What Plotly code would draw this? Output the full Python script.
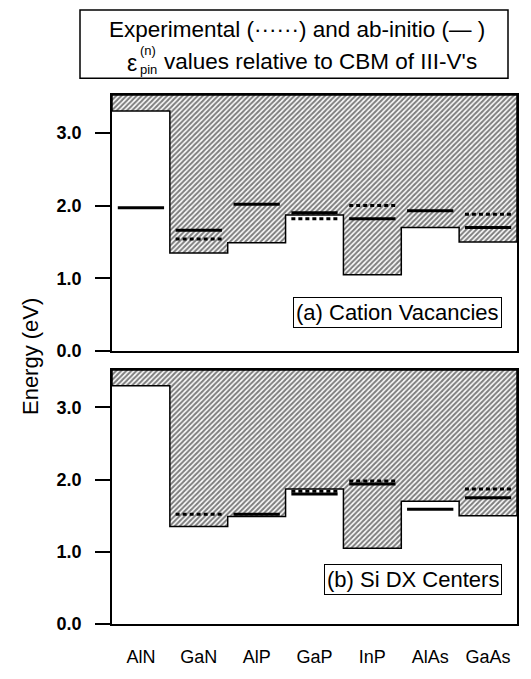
import plotly.graph_objects as go
from plotly.subplots import make_subplots

materials = ["AlN", "GaN", "AlP", "GaP", "InP", "AlAs", "GaAs"]
gap_edge = [3.30, 1.35, 1.49, 1.87, 1.05, 1.70, 1.50]

exp_a = [None, 1.54, None, 1.82, 2.00, None, 1.88]
abi_a = [1.97, 1.66, 2.02, 1.90, 1.82, 1.93, 1.70]
exp_b = [None, 1.52, None, 1.84, 1.98, None, 1.87]
abi_b = [None, None, 1.52, 1.80, 1.94, 1.59, 1.75]

y_ticks = [0, 1, 2, 3]
y_max = 3.52

W, H = 531, 679
ML, MR, MT, MB = 112, 14, 95, 49
PW, PH = W - ML - MR, H - MT - MB
FONT = "Liberation Sans"


def px(x):
    return (x - ML) / PW


def py(y):
    return (H - MB - y) / PH


fig = make_subplots(rows=2, cols=1, vertical_spacing=0.0)
n = len(materials)


def hatch_trace():
    xs, ys = [-0.5], [y_max]
    for i, g in enumerate(gap_edge):
        xs += [i - 0.5, i + 0.5]
        ys += [g, g]
    xs += [n - 0.5, -0.5]
    ys += [y_max, y_max]
    return go.Scatter(
        x=xs, y=ys, mode="lines", fill="toself",
        fillcolor="white",
        fillpattern=dict(shape="/", fgcolor="black", bgcolor="white",
                         size=3.6, solidity=0.55),
        line=dict(color="black", width=1.5),
        hoverinfo="skip", showlegend=False)


def level_trace(vals, dash):
    xs, ys = [], []
    for i, v in enumerate(vals):
        if v is None:
            continue
        xs += [i - 0.4, i + 0.4, None]
        ys += [v, v, None]
    return go.Scatter(x=xs, y=ys, mode="lines",
                      line=dict(color="black", width=3, dash=dash),
                      hoverinfo="skip", showlegend=False)


for row, (ex, ab) in enumerate([(exp_a, abi_a), (exp_b, abi_b)], start=1):
    fig.add_trace(hatch_trace(), row=row, col=1)
    fig.add_trace(level_trace(ab, "solid"), row=row, col=1)
    fig.add_trace(level_trace(ex, "4px,3px"), row=row, col=1)

axis_common = dict(showline=True, mirror=True, linecolor="black", linewidth=1.5,
                   showgrid=False, zeroline=False)

fig.update_xaxes(range=[-0.5, n - 0.5], tickvals=list(range(n)), ticktext=materials,
                 ticks="", **axis_common)
fig.update_xaxes(showticklabels=False, row=1, col=1)
fig.update_xaxes(showticklabels=True, ticklabelstandoff=16,
                 tickfont=dict(family=FONT, size=18, color="black"),
                 row=2, col=1)
fig.update_yaxes(range=[0, y_max], tickvals=y_ticks, tickformat=".1f",
                 ticks="outside", ticklen=15, tickwidth=1.5, tickcolor="black",
                 ticklabelstandoff=10,
                 tickfont=dict(family=FONT, size=18, color="black", weight="bold"),
                 **axis_common)

fig.update_layout(
    width=W, height=H,
    margin=dict(l=ML, r=MR, t=MT, b=MB),
    paper_bgcolor="white", plot_bgcolor="white",
    xaxis=dict(domain=[0, 1]),
    yaxis=dict(domain=[py(354), 1.0]),
    yaxis2=dict(domain=[0.0, py(373)]),
    font=dict(family=FONT, color="black"),
)

# Panel label boxes
for row, txt, yv in [(1, "(a) Cation Vacancies", 0.53), (2, "(b) Si DX Centers", 0.61)]:
    xr = "x domain" if row == 1 else "x2 domain"
    yr = "y" if row == 1 else "y2"
    fig.add_annotation(x=px(502), xref=xr, y=yv, yref=yr, xanchor="right", yanchor="middle",
                       text=txt, showarrow=False, bgcolor="white", bordercolor="black",
                       borderwidth=1, borderpad=2,
                       font=dict(family=FONT, size=22, color="black"))

# Y axis title
fig.add_annotation(x=px(30), y=py(360), xref="paper", yref="paper", text="Energy (eV)",
                   textangle=-90, showarrow=False, xanchor="center", yanchor="middle",
                   font=dict(family=FONT, size=22, color="black"))

# Title box
fig.add_shape(type="rect", xref="paper", yref="paper",
              x0=px(80), x1=px(508), y0=py(78), y1=py(9),
              line=dict(color="black", width=1.5), fillcolor="white")
fig.add_annotation(x=px(297), y=py(29), xref="paper", yref="paper",
                   text="Experimental (······) and ab-initio (— )",
                   showarrow=False, xanchor="center", yanchor="middle", borderpad=0,
                   font=dict(family=FONT, size=22.5, color="black"))
fig.add_annotation(x=px(126), y=py(63), xref="paper", yref="paper", text="ε",
                   showarrow=False, xanchor="left", yanchor="middle", borderpad=0,
                   font=dict(family=FONT, size=23, color="black"))
fig.add_annotation(x=px(139), y=py(50), xref="paper", yref="paper", text="(n)",
                   showarrow=False, xanchor="left", yanchor="middle", borderpad=0,
                   font=dict(family=FONT, size=13, color="black"))
fig.add_annotation(x=px(139), y=py(69), xref="paper", yref="paper", text="pin",
                   showarrow=False, xanchor="left", yanchor="middle", borderpad=0,
                   font=dict(family=FONT, size=13, color="black"))
fig.add_annotation(x=px(163), y=py(61), xref="paper", yref="paper",
                   text="values relative to CBM of III-V's",
                   showarrow=False, xanchor="left", yanchor="middle", borderpad=0,
                   font=dict(family=FONT, size=22.5, color="black"))

fig.write_html("out.html")
